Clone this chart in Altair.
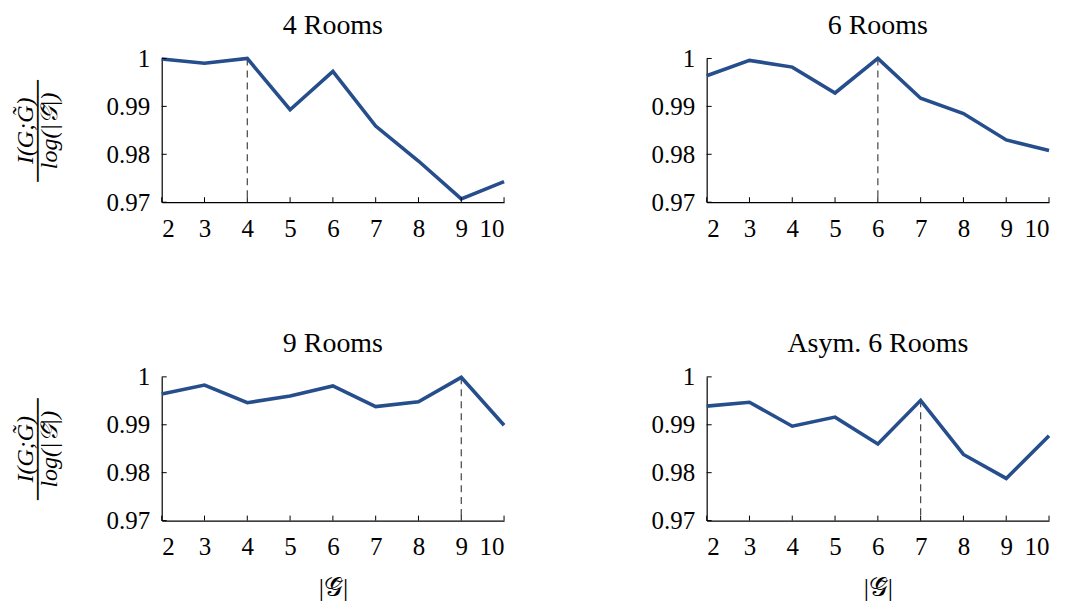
import altair as alt
import pandas as pd

xs = [2, 3, 4, 5, 6, 7, 8, 9, 10]
rooms4 = [0.9999, 0.9990, 1.0000, 0.9893, 0.9973, 0.9859, 0.9786, 0.9707, 0.9743]
rooms6 = [0.9964, 0.9996, 0.9982, 0.9928, 1.0000, 0.9917, 0.9885, 0.9830, 0.9808]
rooms9 = [0.9964, 0.9983, 0.9946, 0.9960, 0.9981, 0.9938, 0.9948, 0.9999, 0.9899]
asym6 = [0.9939, 0.9947, 0.9897, 0.9916, 0.9860, 0.9951, 0.9838, 0.9788, 0.9877]
titles = ["4 Rooms", "6 Rooms", "9 Rooms", "Asym. 6 Rooms"]
best = [4, 6, 9, 7]
y_ticks = [0.97, 0.98, 0.99, 1.0]

FONT = "Liberation Serif"
LINE = "#264e8c"
W, H = 343, 144

ytitle = ["I(G;G\u0303)", "\u2500\u2500\u2500\u2500\u2500\u2500", "log(|\U0001D4A2\u0303|)"]
xtitle = "|\U0001D4A2\u0303|"


def panel(title, values, peak, show_y, show_x):
    df = pd.DataFrame({"x": xs, "v": values})
    xt = pd.DataFrame({"x": xs})
    yt = pd.DataFrame({"v": y_ticks})
    xscale = alt.Scale(domain=[2, 10], nice=False)
    yscale = alt.Scale(domain=[0.97, 1.0], nice=False, zero=False)
    xaxis = alt.Axis(values=xs, format="d", ticks=False, grid=False, labelPadding=14,
                     title=xtitle if show_x else None, titlePadding=15,
                     titleFontSize=26, titleFontWeight="normal")
    yaxis = alt.Axis(values=y_ticks, format=".2~f", ticks=False, grid=False, labelPadding=12,
                     title=ytitle if show_y else None, titlePadding=45,
                     titleFontSize=24, titleFontWeight="normal", titleLineHeight=12,
                     titleFontStyle="italic")
    X = alt.X("x:Q", scale=xscale, axis=xaxis)
    Y = alt.Y("v:Q", scale=yscale, axis=yaxis)
    line = alt.Chart(df).mark_line(color=LINE, strokeWidth=3.6).encode(x=X, y=Y)
    rule = alt.Chart(df).transform_filter(alt.datum.x == peak).mark_rule(
        color="#444444", strokeWidth=1.2, strokeDash=[7, 5]
    ).encode(x=X, y=Y, y2=alt.Y2Datum(0.97))
    xticks = alt.Chart(xt).mark_rule(color="black", strokeWidth=1, y2Offset=-5).encode(
        x=X, y=alt.Y(datum=0.97, scale=yscale, axis=yaxis), y2=alt.Y2Datum(0.97))
    yticks = alt.Chart(yt).mark_rule(color="black", strokeWidth=1, x2Offset=5).encode(
        y=Y, x=alt.X(datum=2, scale=xscale, axis=xaxis), x2=alt.X2Datum(2))
    return alt.layer(rule, line, xticks, yticks).properties(
        width=W, height=H,
        title=alt.TitleParams(title, fontSize=28, font=FONT, fontWeight="normal",
                              color="black", offset=7),
    )


p = [panel(titles[i], v, best[i], i % 2 == 0, i >= 2)
     for i, v in enumerate([rooms4, rooms6, rooms9, asym6])]

chart = alt.vconcat(
    alt.hconcat(p[0], p[1], spacing=139),
    alt.hconcat(p[2], p[3], spacing=139),
    spacing=89,
).properties(
    padding={"left": 5, "top": 3, "right": 5, "bottom": 5}
).configure(background="white").configure_view(stroke=None).configure_axis(
    labelFont=FONT, titleFont=FONT, labelFontSize=25, labelColor="black",
    titleColor="black", domainColor="black", domainWidth=1.2,
    tickColor="black", tickWidth=1, grid=False,
)

chart.save("out.html", embed_options={"renderer": "svg", "actions": False})
